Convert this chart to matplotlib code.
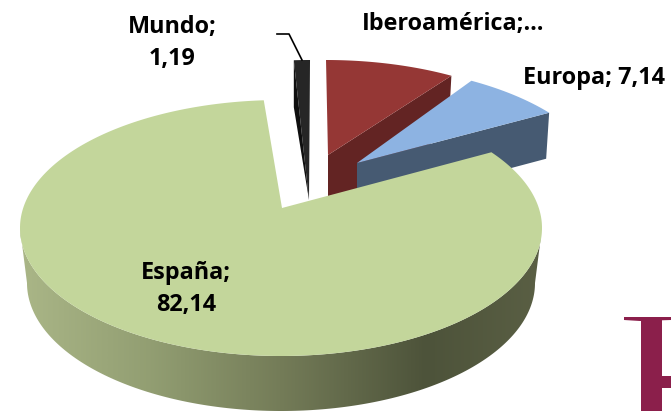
import numpy as np
import matplotlib
matplotlib.use("Agg")
import matplotlib.pyplot as plt
from matplotlib.colors import LinearSegmentedColormap
from matplotlib.patches import Polygon

names = ["Mundo", "Iberoamérica", "Europa", "España"]
values = [1.19, 9.52, 7.14, 82.14]
label_text = ["Mundo;\n1,19", "Iberoamérica;…", "Europa; 7,14", "España;\n82,14"]

# layout of the exploded slices, in pixels
start_angle = 94.28
persp = [0.18, 0.18, 0.18, 0.13]
rx, ry = 260.0, 127.0
centers = [(310, 187), (326, 187), (346, 192), (281, 228)]
apexes = [(309, 200), (328, 155), (357, 163), (282, 208)]
depths = [47, 56, 46, 55]
label_pos = [(172, 43), (453, 24), (594, 78), (186, 289)]

top_colors = ["#262626", "#953735", "#8DB3E2", "#C3D69B"]
side_colors = ["#0F0F0F", "#632423", "#465A72", None]
ink = "#000000"
logo_color = "#8B1F4B"


def warp(t, p):
    # perspective: true pie angle -> parameter on the drawn ellipse
    t = np.radians(t)
    u = np.sqrt(1 - p**2) * np.cos(t) / (1 + p * np.sin(t))
    v = (np.sin(t) + p) / (1 + p * np.sin(t))
    return np.unwrap(np.arctan2(v, u))


def arc(center, t1, t2, p, n=200):
    a = warp(np.linspace(t1, t2, n), p)
    return np.column_stack([center[0] + rx * np.cos(a), center[1] - ry * np.sin(a)])


fig = plt.figure(figsize=(6.71, 4.11), dpi=100)
ax = fig.add_axes([0, 0, 1, 1])
ax.set_xlim(0, 671)
ax.set_ylim(411, 0)
ax.axis("off")

# piece of a logo cut off by the corner
for shape in [
    [(624, 317), (671, 317), (671, 320), (640, 321), (624, 320)],
    [(641, 320), (662, 320), (662, 411), (641, 411)],
    [(662, 376), (671, 376), (671, 388), (662, 388)],
]:
    ax.add_patch(Polygon(shape, fc=logo_color, ec="none", zorder=1))

angle = start_angle
for i, v in enumerate(values):
    sweep = v * 3.6
    pts = arc(centers[i], angle, angle - sweep, persp[i])
    apex = np.array(apexes[i], dtype=float)
    z = 2 + i

    if names[i] == "Mundo":
        side = [pts[0], pts[0] + [0, depths[i]], apex]
        ax.add_patch(Polygon(np.vstack([apex, pts]), fc=top_colors[i], ec="none", zorder=z))
        ax.add_patch(Polygon(side, fc=side_colors[i], ec="none", zorder=z + 0.1))
    elif names[i] == "España":
        a = np.radians(np.linspace(180, 360, 200))
        upper = np.column_stack([centers[i][0] + 261 * np.cos(a), centers[i][1] - 128 * np.sin(a)])
        lower = np.column_stack([centers[i][0] + 254 * np.cos(a), centers[i][1] + depths[i] - 128 * np.sin(a)])
        band = Polygon(np.vstack([upper, lower[::-1]]), fc="none", ec="none", zorder=z)
        ax.add_patch(band)
        cmap = LinearSegmentedColormap.from_list("side", [
            (0.0, "#AAB687"), (0.25, "#929E72"), (0.5, "#747C58"),
            (0.78, "#4D533A"), (1.0, "#5A5F44")])
        img = ax.imshow(np.linspace(0, 1, 256).reshape(1, -1), cmap=cmap, aspect="auto",
                        extent=(20, 541, 411, 200), zorder=z)
        img.set_clip_path(band)
        ax.set_xlim(0, 671)
        ax.set_ylim(411, 0)
        a = warp(np.linspace(angle, angle - sweep, 600), persp[i])
        spain = np.column_stack([centers[i][0] + 261 * np.cos(a), centers[i][1] - 128 * np.sin(a)])
        ax.add_patch(Polygon(np.vstack([apex, spain]), fc=top_colors[i], ec="none", zorder=z + 0.1))
    else:
        end = pts[-1]
        side = [apex, end, end + [-3, depths[i]], apex + [0, depths[i]]]
        ax.add_patch(Polygon(side, fc=side_colors[i], ec="none", zorder=z))
        ax.add_patch(Polygon(np.vstack([apex, pts]), fc=top_colors[i], ec="none", zorder=z + 0.1))
    angle -= sweep

# leader for the Mundo label
ax.plot([277, 289, 302], [34, 34, 60], color=ink, lw=1.2, zorder=9)

for s, (x, y) in zip(label_text, label_pos):
    ax.text(x, y, s, family="Open Sans", fontweight="bold", fontsize=16.8, color=ink,
            ha="center", va="center", linespacing=1.45, zorder=10)

fig.savefig("out.png", dpi=100)
